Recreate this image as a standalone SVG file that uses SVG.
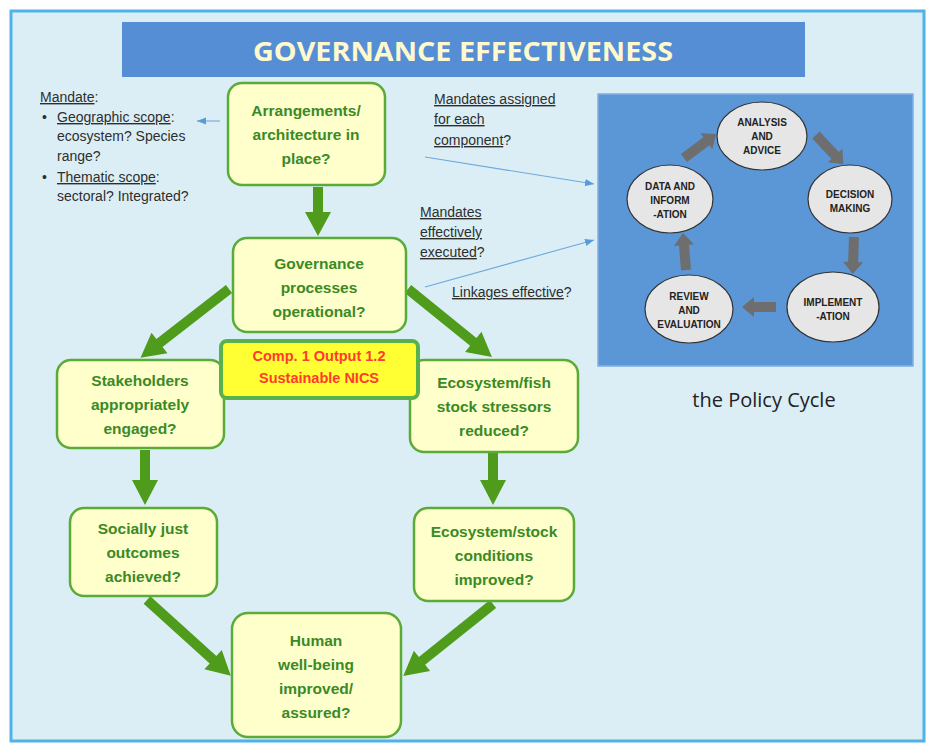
<svg xmlns="http://www.w3.org/2000/svg" width="929" height="744" viewBox="0 0 929 744">
<defs>
<style>
.node rect{fill:#ffffcc;stroke:#5aab37;stroke-width:2.5}
.nt{font-family:"Liberation Sans",Arial,sans-serif;font-weight:bold;font-size:15.5px;fill:#3a8a26;text-anchor:middle}
.side{font-family:"Liberation Sans",Arial,sans-serif;font-size:14px;fill:#2e2e2e}
.u{text-decoration:underline}
.ga{fill:#4f9c1c}
.gy{fill:#6e6e6e}
.ell{fill:#e6e6e6;stroke:#333;stroke-width:1.2}
.et{font-family:"Liberation Sans",Arial,sans-serif;font-weight:bold;font-size:10px;fill:#222;text-anchor:middle}
.bl{stroke:#6fa8dc;stroke-width:1.1;fill:none}
</style>
<marker id="bh" viewBox="0 0 10 10" refX="10" refY="5" markerWidth="9" markerHeight="9" markerUnits="userSpaceOnUse" orient="auto">
<path d="M0,1 L10,5 L0,9 Z" fill="#5b9bd5"/>
</marker>
</defs>
<rect x="0" y="0" width="929" height="744" fill="#ffffff"/>
<rect x="11" y="11" width="913" height="730" fill="#dbeef5" stroke="#4fb3e8" stroke-width="3"/>

<g id="title">
<rect x="122" y="22" width="683" height="55" fill="#558ed5"/>
<text x="463" y="61" text-anchor="middle" font-family="'Open Sans','Liberation Sans',sans-serif" font-weight="bold" font-size="27" fill="#fffacd" textLength="420" lengthAdjust="spacingAndGlyphs">GOVERNANCE EFFECTIVENESS</text>
</g>

<g id="mandate-notes" class="side">
<text x="40" y="102"><tspan class="u">Mandate</tspan>:</text>
<text x="42" y="122">•</text>
<text x="57" y="122"><tspan class="u">Geographic scope</tspan>:</text>
<text x="57" y="141">ecosystem? Species</text>
<text x="57" y="161">range?</text>
<text x="42" y="182">•</text>
<text x="57" y="182"><tspan class="u">Thematic scope</tspan>:</text>
<text x="57" y="201">sectoral? Integrated?</text>
</g>

<g id="right-notes" class="side">
<text x="434" y="104"><tspan class="u">Mandates assigned</tspan></text>
<text x="434" y="124"><tspan class="u">for each</tspan></text>
<text x="434" y="145"><tspan class="u">component</tspan>?</text>
<text x="420" y="217"><tspan class="u">Mandates</tspan></text>
<text x="420" y="237"><tspan class="u">effectively</tspan></text>
<text x="420" y="257"><tspan class="u">executed</tspan>?</text>
<text x="452" y="297"><tspan class="u">Linkages effective</tspan>?</text>
</g>

<g id="connectors">
<polygon class="ga" points="313,187 323,187 323,212 331,212 318,236 305,212 313,212"/>
<polygon class="ga" points="140,450 150,450 150,480 158,480 145,505 132,480 140,480"/>
<polygon class="ga" points="488,453 498,453 498,480 506,480 493,505 480,480 488,480"/>
<polygon class="ga" transform="translate(229,289) rotate(142.2)" points="0,-5 88,-5 88,-13 112,0 88,13 88,5 0,5"/>
<polygon class="ga" transform="translate(408,289) rotate(39)" points="0,-5 84,-5 84,-13 108,0 84,13 84,5 0,5"/>
<polygon class="ga" transform="translate(147,600) rotate(42.1)" points="0,-5 89,-5 89,-13 113,0 89,13 89,5 0,5"/>
<polygon class="ga" transform="translate(493,604) rotate(141.3)" points="0,-5 91,-5 91,-13 115,0 91,13 91,5 0,5"/>
<line class="bl" x1="220" y1="121" x2="197" y2="121" marker-end="url(#bh)"/>
<line class="bl" x1="425" y1="157" x2="594" y2="184" marker-end="url(#bh)"/>
<line class="bl" x1="425" y1="287" x2="594" y2="240" marker-end="url(#bh)"/>
</g>

<g id="n-arrangements" class="node">
<rect x="228" y="83" width="157" height="102" rx="14"/>
<text class="nt" x="306" y="116">Arrangements/</text>
<text class="nt" x="306" y="140">architecture in</text>
<text class="nt" x="306" y="164">place?</text>
</g>
<g id="n-governance" class="node">
<rect x="233" y="238" width="173" height="94" rx="14"/>
<text class="nt" x="319" y="269">Governance</text>
<text class="nt" x="319" y="293">processes</text>
<text class="nt" x="319" y="317">operational?</text>
</g>
<g id="n-stakeholders" class="node">
<rect x="57" y="360" width="167" height="88" rx="14"/>
<text class="nt" x="140" y="386">Stakeholders</text>
<text class="nt" x="140" y="410">appropriately</text>
<text class="nt" x="140" y="434">engaged?</text>
</g>
<g id="n-stressors" class="node">
<rect x="410" y="360" width="168" height="92" rx="14"/>
<text class="nt" x="494" y="388">Ecosystem/fish</text>
<text class="nt" x="494" y="412">stock stressors</text>
<text class="nt" x="494" y="436">reduced?</text>
</g>
<g id="n-comp" >
<rect x="221" y="341" width="197" height="57" rx="6" fill="#ffff33" stroke="#5ab04a" stroke-width="4"/>
<text x="319" y="361" text-anchor="middle" font-family="'Liberation Sans',Arial,sans-serif" font-weight="bold" font-size="14.5" fill="#ff3b30">Comp. 1 Output 1.2</text>
<text x="319" y="383" text-anchor="middle" font-family="'Liberation Sans',Arial,sans-serif" font-weight="bold" font-size="14.5" fill="#ff3b30">Sustainable NICS</text>
</g>
<g id="n-social" class="node">
<rect x="70" y="508" width="147" height="88" rx="14"/>
<text class="nt" x="143" y="534">Socially just</text>
<text class="nt" x="143" y="558">outcomes</text>
<text class="nt" x="143" y="582">achieved?</text>
</g>
<g id="n-conditions" class="node">
<rect x="414" y="508" width="160" height="93" rx="14"/>
<text class="nt" x="494" y="537">Ecosystem/stock</text>
<text class="nt" x="494" y="561">conditions</text>
<text class="nt" x="494" y="585">improved?</text>
</g>
<g id="n-human" class="node">
<rect x="232" y="613" width="169" height="124" rx="16"/>
<text class="nt" x="316" y="646">Human</text>
<text class="nt" x="316" y="670">well-being</text>
<text class="nt" x="316" y="694">improved/</text>
<text class="nt" x="316" y="718">assured?</text>
</g>

<g id="policy-cycle">
<rect x="598" y="94" width="315" height="272" fill="#5b96d6" stroke="#7fb0e3" stroke-width="1.5"/>
<polygon class="gy" transform="translate(684,158) rotate(-36.9)" points="0,-5 28,-5 28,-10 40,0 28,10 28,5 0,5"/>
<polygon class="gy" transform="translate(816,135) rotate(47)" points="0,-5 28,-5 28,-10 40,0 28,10 28,5 0,5"/>
<polygon class="gy" transform="translate(854,237) rotate(92)" points="0,-5 25,-5 25,-10 37,0 25,10 25,5 0,5"/>
<polygon class="gy" transform="translate(776,307) rotate(180)" points="0,-5 22,-5 22,-10 34,0 22,10 22,5 0,5"/>
<polygon class="gy" transform="translate(686,270) rotate(-94.6)" points="0,-5 25,-5 25,-10 37,0 25,10 25,5 0,5"/>
<g id="c-analysis">
<ellipse class="ell" cx="762" cy="136" rx="45" ry="34"/>
<text class="et" x="762" y="126">ANALYSIS</text>
<text class="et" x="762" y="140">AND</text>
<text class="et" x="762" y="154">ADVICE</text>
</g>
<g id="c-decision">
<ellipse class="ell" cx="850" cy="199" rx="42" ry="34"/>
<text class="et" x="850" y="198">DECISION</text>
<text class="et" x="850" y="212">MAKING</text>
</g>
<g id="c-implementation">
<ellipse class="ell" cx="833" cy="307" rx="46" ry="35"/>
<text class="et" x="833" y="306">IMPLEMENT</text>
<text class="et" x="833" y="320">-ATION</text>
</g>
<g id="c-review">
<ellipse class="ell" cx="689" cy="309" rx="44" ry="34"/>
<text class="et" x="689" y="300">REVIEW</text>
<text class="et" x="689" y="314">AND</text>
<text class="et" x="689" y="328">EVALUATION</text>
</g>
<g id="c-data">
<ellipse class="ell" cx="670" cy="199" rx="43" ry="34"/>
<text class="et" x="670" y="190">DATA AND</text>
<text class="et" x="670" y="204">INFORM</text>
<text class="et" x="670" y="218">-ATION</text>
</g>
</g>
<text x="764" y="407" text-anchor="middle" font-family="'Open Sans','Liberation Sans',sans-serif" font-size="20" fill="#222">the Policy Cycle</text>
</svg>
